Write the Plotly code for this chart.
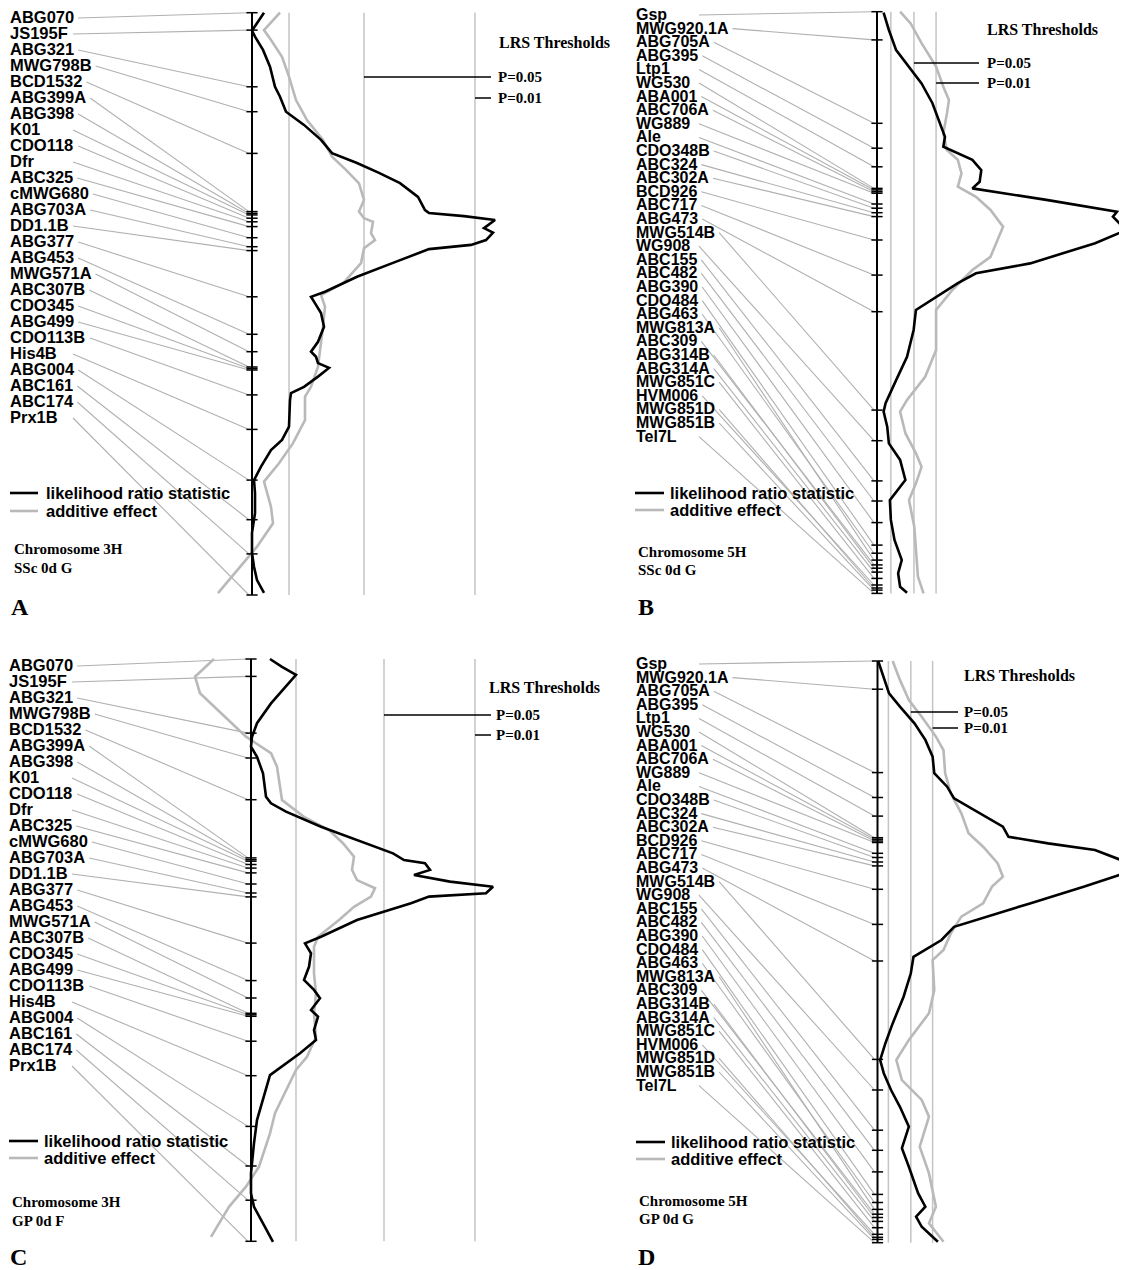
import plotly.graph_objects as go

# page body has an 8px default margin; figure is shifted accordingly
OX, OY = 8, 8
W, H = 1127 - OX, 1270 - OY

# ---------------- data ----------------
chr3_markers = ["ABG070", "JS195F", "ABG321", "MWG798B", "BCD1532", "ABG399A", "ABG398", "K01",
                "CDO118", "Dfr", "ABC325", "cMWG680", "ABG703A", "DD1.1B", "ABG377", "ABG453",
                "MWG571A", "ABC307B", "CDO345", "ABG499", "CDO113B", "His4B", "ABG004", "ABC161",
                "ABC174", "Prx1B"]
chr3_cm = [0.0, 5.8, 24.7, 33.0, 46.9, 66.3, 66.9, 67.4, 68.5, 69.7, 71.3, 75.0, 78.0, 79.3,
           94.7, 107.2, 113.0, 118.1, 118.6, 119.1, 127.4, 138.9, 155.8, 169.0, 180.4, 194.1]

chr5_markers = ["Gsp", "MWG920.1A", "ABG705A", "ABG395", "Ltp1", "WG530", "ABA001", "ABC706A",
                "WG889", "Ale", "CDO348B", "ABC324", "ABC302A", "BCD926", "ABC717", "ABG473",
                "MWG514B", "WG908", "ABC155", "ABC482", "ABG390", "CDO484", "ABG463", "MWG813A",
                "ABC309", "ABG314B", "ABG314A", "MWG851C", "HVM006", "MWG851D", "MWG851B", "Tel7L"]
chr5_cm = [0.0, 9.4, 37.2, 45.5, 51.7, 58.9, 59.4, 60.0, 60.5, 64.1, 65.5, 67.0, 68.3, 76.1,
           87.8, 100.0, 132.8, 143.0, 156.4, 163.1, 170.3, 177.8, 180.5, 182.8, 184.4, 185.5,
           186.8, 188.9, 191.1, 192.1, 192.8, 193.9]

# Panel A (3H, SSc 0d G)
a_lrs_cm = [0, 3.5, 6.0, 8.0, 12.4, 18.0, 24.7, 28.0, 33.0, 37.4, 42.4, 46.8, 50.1, 53.4, 56.8,
            61.4, 65.8, 66.8, 67.8, 69.1, 71.8, 73.3, 75.8, 77.4, 78.8, 83.4, 88.0, 93.0, 94.7,
            96.3, 100.1, 104.7, 109.7, 113.0, 114.7, 116.8, 118.4, 121.3, 124.7, 126.8, 129.1,
            138.0, 142.4, 145.8, 151.3, 155.8, 160.1, 166.8, 173.4, 180.1, 184.7, 189.1, 193.4]
a_lrs = [1.2, 0.5, 0.0, 0.3, 1.1, 1.8, 2.3, 2.8, 3.4, 5.2, 6.9, 8.0, 10.5, 12.7, 14.8,
         16.6, 17.3, 17.7, 21.2, 24.3, 23.2, 24.1, 23.4, 21.9, 17.7, 14.1, 10.5, 7.3, 5.9,
         6.2, 6.9, 7.2, 6.6, 5.9, 6.4, 6.6, 7.7, 6.6, 5.2, 3.9, 3.8,
         3.7, 3.0, 1.9, 0.9, 0.2, 0.3, 0.3, 0.0, 0.0, 0.2, 0.5, 1.2]
a_add_cm = [0, 5.8, 9.1, 14.7, 21.3, 29.1, 35.8, 42.4, 48.0, 52.4, 56.9, 62.4, 66.3, 68.5, 69.7,
            73.5, 75.8, 78.5, 83.5, 90.2, 94.1, 98.0, 104.7, 110.1, 118.0, 124.7, 128.0, 135.8,
            143.5, 150.2, 156.3, 164.7, 170.2, 178.0, 182.4, 193.5]
a_add = [2.8, 1.2, 1.9, 3.0, 3.7, 4.4, 5.5, 7.1, 8.0, 9.4, 10.7, 11.2, 10.7, 11.2, 12.1,
         11.9, 12.3, 11.2, 10.9, 9.1, 6.9, 7.3, 7.1, 6.9, 6.6, 5.9, 5.3, 5.3,
         4.1, 2.7, 1.2, 1.9, 2.1, 0.5, -0.6, -3.4]
a_thr = [3.7, 11.2, 22.3]

# Panel B (5H, SSc 0d G)
b_lrs_cm = [0.3, 6.1, 12.8, 18.3, 23.9, 30.5, 37.2, 41.7, 45.0, 46.7, 49.4, 52.8, 56.7, 58.9,
            60.0, 62.8, 66.7, 68.3, 72.8, 77.2, 83.9, 87.2, 90.5, 95.0, 99.4, 106.1, 115.0,
            122.8, 130.5, 133.3, 138.3, 143.9, 149.4, 156.1, 159.4, 162.8, 169.4, 176.1, 182.8,
            187.2, 191.7, 193.7]
b_lrs = [2.0, 3.6, 5.8, 9.7, 13.5, 16.8, 19.0, 20.6, 20.1, 23.4, 28.9, 31.6, 31.1, 28.9,
         35.5, 51.8, 72.7, 71.5, 75.5, 66.1, 46.4, 30.0, 24.5, 17.9, 11.8, 11.1, 9.1,
         5.8, 2.6, 2.0, 3.1, 3.6, 7.0, 8.6, 6.4, 3.9, 4.2, 5.3, 7.5, 6.4, 7.0, 9.1]
b_add_cm = [0, 3.9, 10.5, 18.3, 25.0, 29.4, 33.9, 40.5, 46.1, 49.4, 53.9, 58.3, 61.7, 66.1,
            71.7, 76.1, 81.7, 86.1, 92.8, 99.4, 107.2, 112.8, 121.7, 129.4, 133.3, 140.5,
            147.2, 151.7, 157.2, 162.8, 171.7, 180.5, 188.3, 193.9]
b_add = [7.0, 10.2, 13.5, 17.9, 20.1, 21.8, 21.2, 20.1, 21.2, 24.5, 25.6, 24.5, 30.0, 34.4,
         38.2, 36.5, 34.4, 28.9, 22.8, 17.9, 17.9, 17.9, 14.6, 9.1, 7.0, 8.6,
         11.8, 13.5, 11.8, 9.7, 11.3, 11.8, 12.4, 14.1]
b_thr = [4.2, 11.2, 17.9]

# Panel C (3H, GP 0d F)
c_lrs_cm = [0, 2.6, 5.3, 9.2, 14.8, 21.4, 25.9, 29.2, 32.6, 38.1, 45.9, 48.1, 50.9, 55.9, 60.3,
            64.8, 67.0, 68.1, 70.3, 72.0, 74.2, 75.9, 78.1, 79.2, 81.4, 87.0, 92.6, 94.8, 98.1,
            102.6, 107.0, 110.3, 113.1, 117.0, 119.2, 123.7, 127.0, 131.4, 138.7, 145.9, 153.7,
            161.4, 171.4, 178.1, 182.6, 188.1, 194.3]
c_lrs = [1.9, 3.1, 4.5, 3.5, 2.0, 0.6, 0.1, 0.0, 0.6, 1.2, 1.5, 2.0, 3.5, 7.0, 10.6,
         14.2, 15.3, 17.4, 17.9, 16.3, 19.9, 24.2, 23.5, 17.8, 16.0, 10.6, 7.0, 5.4, 6.0,
         5.8, 5.3, 6.3, 6.9, 6.0, 6.7, 6.3, 6.5, 4.9, 1.9, 1.3, 0.6,
         0.3, 0.0, 0.0, 0.3, 1.2, 2.2]
c_add_cm = [0, 5.9, 11.4, 18.1, 25.9, 31.4, 35.9, 47.0, 52.6, 57.0, 61.4, 65.9, 70.3, 73.7,
            76.4, 79.2, 82.6, 87.0, 92.6, 95.9, 104.8, 111.4, 118.1, 125.9, 132.6, 137.0,
            143.7, 151.4, 158.1, 169.2, 175.9, 182.6, 192.6]
c_add = [-3.7, -5.6, -5.1, -3.0, -0.5, 2.0, 2.6, 3.1, 5.3, 7.8, 9.2, 10.3, 10.1, 10.6,
         12.4, 12.0, 10.3, 8.8, 6.7, 6.3, 6.3, 6.5, 6.3, 6.5, 5.6, 4.5,
         3.5, 2.4, 1.9, 0.8, -0.5, -2.2, -4.0]
c_thr = [4.5, 13.3, 22.4]

# Panel D (5H, GP 0d G)
d_lrs_cm = [0, 5.2, 10.8, 15.2, 20.8, 26.3, 31.9, 37.4, 41.9, 45.8, 50.8, 55.2, 58.6, 60.8,
            63.0, 66.3, 70.8, 75.2, 80.8, 86.3, 88.6, 93.0, 98.6, 104.1, 111.9, 120.8, 127.4,
            133.0, 137.4, 143.0, 148.6, 155.2, 162.4, 168.6, 177.4, 181.9, 185.2, 188.6, 193.6]
d_lrs = [0.2, 1.9, 3.5, 6.8, 11.2, 14.5, 16.7, 17.2, 21.1, 23.2, 30.9, 38.0, 39.7, 51.7,
         65.9, 73.7, 74.7, 62.7, 46.2, 29.8, 23.2, 19.4, 10.9, 10.1, 7.9, 4.6, 2.4,
         0.8, 1.9, 4.1, 6.8, 9.5, 7.4, 9.5, 12.3, 14.5, 11.7, 13.4, 18.3]
d_add_cm = [0, 6.3, 13.0, 18.6, 25.2, 29.7, 37.4, 44.1, 50.8, 57.4, 61.9, 67.4, 71.9, 75.2,
            80.8, 85.2, 90.8, 96.3, 99.7, 109.7, 117.4, 126.3, 133.0, 139.7, 146.3, 151.9,
            161.9, 170.8, 181.9, 187.4, 193.6]
d_add = [4.6, 6.8, 9.5, 13.4, 17.7, 20.0, 20.5, 22.2, 25.4, 27.6, 32.0, 36.4, 38.0, 34.7,
         32.0, 25.4, 22.2, 20.0, 16.7, 17.2, 15.6, 9.5, 5.7, 7.4, 13.4, 15.6,
         12.8, 15.6, 17.7, 15.6, 20.0]
d_thr = [3.3, 10.1, 16.7]

legend_texts = ["likelihood ratio statistic", "additive effect"]
threshold_labels = ["P=0.05", "P=0.01"]

# ---------------- layout helpers ----------------
BLACK = "#000000"
GRAY_CURVE = "#b9b9b9"
GRAY_THR = "#c4c4c4"
GRAY_CONN = "#b0b0b0"
PPCM = 3.0  # pixels per cM

_w = {c: 0.722 for c in "ABCDHKNRUX"}
_w.update({"E": .667, "F": .611, "G": .778, "I": .278, "J": .556, "L": .611, "M": .833, "O": .778,
           "P": .667, "Q": .778, "S": .667, "T": .611, "V": .667, "W": .944, "Y": .667, "Z": .611,
           ".": .278, "a": .556, "b": .611, "c": .556, "d": .611, "e": .556, "f": .333, "g": .611,
           "h": .611, "i": .278, "j": .278, "k": .556, "l": .278, "m": .889, "n": .611, "o": .611,
           "p": .611, "r": .389, "s": .556, "t": .333, "u": .611, "v": .556, "w": .778, "x": .556})


def text_w(s, size):
    return sum(_w.get(ch, .556) for ch in s) * size


panels = [
    dict(markers=chr3_markers, cm=chr3_cm, lrs_cm=a_lrs_cm, lrs=a_lrs, add_cm=a_add_cm, add=a_add,
         thr=a_thr, chrom="Chromosome 3H", trait="SSc 0d G", letter="A", fs=16.5,
         box=(8, 560, 8, 625), cx=252, s=10.0, top=12.7, lab_x=10, lab_y0=19.0, lab_dy=16.0,
         p_y=(77, 98), p_end=491, p_text=496, lrs_text=(497, 42),
         leg=(10, 38, 44, 493, 511), title=(12, 549, 568), let=(9, 607)),
    dict(markers=chr5_markers, cm=chr5_cm, lrs_cm=b_lrs_cm, lrs=b_lrs, add_cm=b_add_cm, add=b_add,
         thr=b_thr, chrom="Chromosome 5H", trait="SSc 0d G", letter="B", fs=16,
         box=(560, 1127, 8, 625), cx=877, s=3.3, top=11.7, lab_x=636, lab_y0=16.0, lab_dy=13.6,
         p_y=(63, 83), p_end=979, p_text=985, lrs_text=(985, 30),
         leg=(635, 664, 668, 493, 510), title=(636, 552, 570), let=(636, 607)),
    dict(markers=chr3_markers, cm=chr3_cm, lrs_cm=c_lrs_cm, lrs=c_lrs, add_cm=c_add_cm, add=c_add,
         thr=c_thr, chrom="Chromosome 3H", trait="GP 0d F", letter="C", fs=16.5,
         box=(8, 560, 640, 1270), cx=251, s=10.0, top=659, lab_x=9, lab_y0=667, lab_dy=16.0,
         p_y=(715, 735), p_end=491, p_text=494, lrs_text=(487, 687),
         leg=(9, 38, 42, 1141, 1158), title=(10, 1202, 1221), let=(8, 1257)),
    dict(markers=chr5_markers, cm=chr5_cm, lrs_cm=d_lrs_cm, lrs=d_lrs, add_cm=d_add_cm, add=d_add,
         thr=d_thr, chrom="Chromosome 5H", trait="GP 0d G", letter="D", fs=16,
         box=(560, 1127, 640, 1270), cx=877.5, s=3.3, top=661, lab_x=636, lab_y0=665.0, lab_dy=13.6,
         p_y=(712, 728), p_end=958, p_text=962, lrs_text=(962, 675),
         leg=(636, 665, 669, 1142, 1159), title=(637, 1201, 1219), let=(636, 1257)),
]

fig = go.Figure()
layout = dict(width=W, height=H, margin=dict(l=0, r=0, t=0, b=0, pad=0), paper_bgcolor="white",
              plot_bgcolor="white", showlegend=False)
annotations = []
shapes = []


def px(x):
    return (x - OX) / W


def py(y):
    return 1 - (y - OY) / H


for i, p in enumerate(panels, start=1):
    x0, x1, y0, y1 = p["box"]
    cx, s, top = p["cx"], p["s"], p["top"]
    xa = "x" if i == 1 else f"x{i}"
    ya = "y" if i == 1 else f"y{i}"
    suf = "" if i == 1 else str(i)
    layout[f"xaxis{suf}"] = dict(domain=[px(x0), px(x1)], range=[(x0 - cx) / s, (x1 - cx) / s],
                                 visible=False, anchor=ya, fixedrange=True)
    layout[f"yaxis{suf}"] = dict(domain=[py(y1), py(y0)],
                                 range=[(y1 - top) / PPCM, (y0 - top) / PPCM],
                                 visible=False, anchor=xa, fixedrange=True)

    def ux(xp, cx=cx, s=s):
        return (xp - cx) / s

    def uy(yp, top=top):
        return (yp - top) / PPCM

    L = p["cm"][-1]
    # connectors from labels to markers
    cxs, cys = [], []
    lab_ys = []
    for k, (name, pos) in enumerate(zip(p["markers"], p["cm"])):
        ly = p["lab_y0"] + k * p["lab_dy"]
        lab_ys.append(uy(ly))
        start = max(p["lab_x"] + 63, p["lab_x"] + text_w(name, p["fs"]) + 4)
        cxs += [ux(start), ux(cx - 3), None]
        cys += [uy(ly - 1), pos, None]
    fig.add_trace(go.Scatter(x=cxs, y=cys, mode="lines", line=dict(color=GRAY_CONN, width=1.1),
                             xaxis=xa, yaxis=ya, hoverinfo="skip", cliponaxis=False))
    # threshold verticals
    tx, ty = [], []
    for t in p["thr"]:
        tx += [t, t, None]
        ty += [0, L, None]
    fig.add_trace(go.Scatter(x=tx, y=ty, mode="lines", line=dict(color=GRAY_THR, width=1.5),
                             xaxis=xa, yaxis=ya, hoverinfo="skip"))
    # additive effect
    fig.add_trace(go.Scatter(x=p["add"], y=p["add_cm"], mode="lines",
                             line=dict(color=GRAY_CURVE, width=2.6), xaxis=xa, yaxis=ya))
    # chromosome
    fig.add_trace(go.Scatter(x=[0, 0], y=[0, L], mode="lines", line=dict(color=BLACK, width=2),
                             xaxis=xa, yaxis=ya, hoverinfo="skip"))
    fig.add_trace(go.Scatter(x=[0] * len(p["cm"]), y=p["cm"], mode="markers",
                             marker=dict(symbol="line-ew", size=8, line=dict(color=BLACK, width=1.5)),
                             xaxis=xa, yaxis=ya, hoverinfo="skip", cliponaxis=False))
    # LRS
    fig.add_trace(go.Scatter(x=p["lrs"], y=p["lrs_cm"], mode="lines",
                             line=dict(color=BLACK, width=2.6), xaxis=xa, yaxis=ya))
    # marker labels
    fig.add_trace(go.Scatter(x=[ux(p["lab_x"])] * len(p["markers"]), y=lab_ys, mode="text",
                             text=[f"<b>{m}</b>" for m in p["markers"]], textposition="middle right",
                             textfont=dict(family="Liberation Sans", size=p["fs"], color=BLACK),
                             xaxis=xa, yaxis=ya, hoverinfo="skip", cliponaxis=False))
    # threshold pointers
    for t, yy, lab in zip(p["thr"][1:], p["p_y"], threshold_labels):
        shapes.append(dict(type="line", xref=xa, yref=ya, x0=t, x1=ux(p["p_end"]), y0=uy(yy), y1=uy(yy),
                           line=dict(color=BLACK, width=1.5)))
        annotations.append(dict(x=px(p["p_text"]), y=py(yy), xref="paper", yref="paper", text=f"<b>{lab}</b>",
                                showarrow=False, xanchor="left", yanchor="middle",
                                font=dict(family="Liberation Serif", size=15, color=BLACK)))
    annotations.append(dict(x=px(p["lrs_text"][0]), y=py(p["lrs_text"][1]), xref="paper", yref="paper",
                            text="<b>LRS Thresholds</b>", showarrow=False, xanchor="left", yanchor="middle",
                            font=dict(family="Liberation Serif", size=16, color=BLACK)))
    # legend
    lx0, lx1, ltx, ly_b, ly_g = p["leg"]
    shapes.append(dict(type="line", xref="paper", yref="paper", x0=px(lx0), x1=px(lx1), y0=py(ly_b), y1=py(ly_b),
                       line=dict(color=BLACK, width=2.6)))
    shapes.append(dict(type="line", xref="paper", yref="paper", x0=px(lx0), x1=px(lx1), y0=py(ly_g), y1=py(ly_g),
                       line=dict(color=GRAY_CURVE, width=2.6)))
    for yy, txt in zip((ly_b, ly_g), legend_texts):
        annotations.append(dict(x=px(ltx), y=py(yy), xref="paper", yref="paper", text=f"<b>{txt}</b>",
                                showarrow=False, xanchor="left", yanchor="middle",
                                font=dict(family="Liberation Sans", size=16.5, color=BLACK)))
    # titles
    tx0, ty1, ty2 = p["title"]
    annotations.append(dict(x=px(tx0), y=py(ty1), xref="paper", yref="paper", text=f"<b>{p['chrom']}</b>",
                            showarrow=False, xanchor="left", yanchor="middle",
                            font=dict(family="Liberation Serif", size=15, color=BLACK)))
    annotations.append(dict(x=px(tx0), y=py(ty2), xref="paper", yref="paper", text=f"<b>{p['trait']}</b>",
                            showarrow=False, xanchor="left", yanchor="middle",
                            font=dict(family="Liberation Serif", size=15, color=BLACK)))
    annotations.append(dict(x=px(p["let"][0]), y=py(p["let"][1]), xref="paper", yref="paper",
                            text=f"<b>{p['letter']}</b>", showarrow=False, xanchor="left", yanchor="middle",
                            font=dict(family="Liberation Serif", size=24, color=BLACK)))

layout["annotations"] = annotations
layout["shapes"] = shapes
fig.update_layout(**layout)
fig.write_html("out.html")
